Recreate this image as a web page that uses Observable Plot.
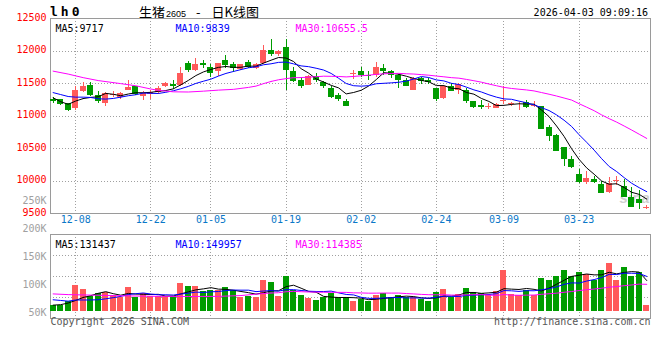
<!DOCTYPE html>
<html><head><meta charset="utf-8">
<script src="https://cdn.jsdelivr.net/npm/d3@7"></script>
<script src="https://cdn.jsdelivr.net/npm/@observablehq/plot@0.6"></script>
<style>
html,body{margin:0;padding:0;background:#fff;}
#chart{position:relative;width:660px;height:360px;background:#fff;overflow:hidden;}
#chart svg{position:absolute;left:0;}
.hdr{position:absolute;white-space:pre;line-height:1;color:#000;}
</style></head><body>
<div id="chart"></div>
<script>
// ---------- data ----------
const symbol = "lh0";
const productName = "生猪";
const contractCode = "2605";
const chartKind = "日K线图";
const stamp = "2026-04-03 09:09:16";
const copyright = "Copyright 2026 SINA.COM";
const siteUrl = "http://finance.sina.com.cn";
const watermark = "sina";

const dates = ["12-03","12-04","12-05","12-08","12-09","12-10","12-11","12-12","12-15","12-16","12-17","12-18","12-19","12-22","12-23","12-24","12-25","12-26","12-29","12-30","12-31",
"01-05","01-06","01-07","01-08","01-09","01-12","01-13","01-14","01-15","01-16","01-19","01-20","01-21","01-22","01-23","01-26","01-27","01-28","01-29","01-30",
"02-02","02-03","02-04","02-05","02-06","02-09","02-10","02-11","02-12","02-13",
"02-24","02-25","02-26","02-27","03-02","03-03","03-04","03-05","03-06",
"03-09","03-10","03-11","03-12","03-13","03-16","03-17","03-18","03-19","03-20",
"03-23","03-24","03-25","03-26","03-27","03-30","03-31","04-01","04-02","04-03"];

const open  = [11260,11250,11190,11120,11380,11470,11310,11190,11310,11280,11400,11450,11300,11330,11360,11450,11490,11470,11810,11700,
11810,11750,11680,11860,11800,11710,11820,11730,11810,12010,11940,12060,11690,11550,11470,11610,11510,11430,11320,11230,
11640,11690,11630,11620,11730,11690,11630,11550,11400,11570,11550,11420,11270,11450,11400,11400,11220,11160,11130,11120,
11220,11180,11170,11210,11140,11140,10830,10700,10510,10330,10100,9970,10030,9950,9830,9990,9920,9740,9710,9580];
const high  = [11290,11260,11200,11450,11510,11510,11380,11360,11370,11360,11550,11460,11370,11390,11450,11510,11550,11740,11840,11890,
11850,11790,11810,11930,11830,11800,11860,11810,12090,12170,12010,12170,11740,11590,11620,11650,11530,11450,11350,11260,
11700,11750,11690,11820,11790,11700,11640,11580,11600,11600,11570,11430,11470,11500,11500,11420,11230,11240,11190,11200,
11450,11210,11210,11240,11220,11150,10850,10710,10510,10370,10180,10140,10070,10000,10050,10070,10020,9900,9850,9620];
const low   = [11190,11160,11070,11090,11360,11300,11190,11150,11290,11260,11390,11320,11240,11260,11330,11440,11410,11450,11670,11680,
11730,11600,11610,11730,11670,11700,11730,11710,11790,11910,11910,11400,11520,11420,11470,11520,11420,11270,11230,11150,
11560,11600,11550,11600,11630,11580,11420,11450,11390,11480,11480,11230,11260,11370,11330,11200,11110,11100,11100,11110,
11170,11140,11090,11120,11130,10790,10610,10450,10220,10200,9960,9940,9960,9810,9810,9930,9740,9590,9560,9560];
const close = [11220,11180,11080,11400,11460,11310,11230,11340,11330,11350,11440,11330,11340,11360,11430,11500,11460,11650,11700,11800,
11780,11650,11810,11770,11730,11790,11740,11800,12010,11950,12000,11700,11530,11460,11610,11550,11460,11280,11260,11150,
11660,11630,11610,11750,11680,11620,11550,11460,11580,11530,11510,11260,11460,11380,11490,11220,11130,11130,11150,11170,
11240,11200,11180,11130,11160,10790,10690,10460,10330,10210,9970,10040,9970,9810,9960,10010,9750,9600,9650,9600];
const volume = [24300,24300,42800,109900,92700,62800,74200,78500,67100,59900,101300,59900,74200,62800,62800,62800,62800,119800,105600,105600,
84200,88500,88500,101300,87000,57100,62800,57100,131300,124100,62800,149800,88500,67100,55600,45700,59900,74200,57100,57100,
41400,48500,42800,67100,74200,57100,67100,57100,57100,48500,42800,81300,92700,57100,71300,98400,81300,74200,67100,85600,
174100,71300,67100,88500,67100,139800,131300,149800,174100,149800,165500,156900,131300,174100,205400,131300,186900,149800,164100,24300];

// moving averages before a full window exists
const priceMa5Head  = [11280,11220,11180,11230,11268];
const priceMa10Head = [11360,11330,11300,11290,11290,11285,11265,11260,11270,11290];
const priceMa30HeadDates = ["12-03","12-05","12-09","12-11","12-16","12-18","12-22","12-23","12-25","12-29","12-31","01-06","01-08","01-12","01-13","01-14","01-15"];
const priceMa30Head      = [11690,11645,11590,11545,11498,11465,11415,11395,11372,11369,11382,11398,11410,11440,11460,11498,11531];
const volMa5Head  = [26000,28000,35000,46000,58800];
const volMa10Head = [49000,46000,43000,48000,48000,48000,49000,53000,58000,63700];
const volMa30HeadDates = ["12-03","12-05","12-10","12-16","12-22","12-29","01-06","01-09","01-13","01-15"];
const volMa30Head      = [74000,71000,69000,66000,64000,63000,63500,67000,73000,77900];

const tickLabels = ["12-08","12-22","01-05","01-19","02-02","02-24","03-09","03-23"];
const priceTicks = [9500,10000,10500,11000,11500,12000,12500];
const priceGrid  = [10000,10500,11000,11500,12000];
const volGrid    = [60000,150000,240000];
const volTickLabels = [250000,200000,150000,100000,50000];

const maNames   = ["MA5","MA10","MA30"];
const maWindows = [5,10,30];
const priceMaLast = ["9717","9839","10655.5"];
const volMaLast   = ["131437","149957","114385"];

// ---------- styles ----------
const UP = "#ff5a5a", DOWN = "#009c00";
const maColors = ["#000000","#0000ff","#ff00ff"];
const AXIS_BLUE = "#0a78c8";
const MONO = "DejaVu Sans Mono, monospace";
const gridStyle = {stroke:"#a0a0a0", strokeOpacity:1, strokeDasharray:"1,2", shapeRendering:"crispEdges"};
const frameStyle = {stroke:"#9a9a9a", shapeRendering:"crispEdges"};

const candles = dates.map((date,i)=>({i, date, open:open[i], high:high[i], low:low[i], close:close[i], vol:volume[i], up: close[i] >= open[i]}));
const tickIdx = tickLabels.map(d => dates.indexOf(d));
const xScale = {domain:[-0.35, 79.5], axis:null};
const headSeq = arr => arr.map((v,i)=>({i, v}));
const headAt = (ds, vs) => ds.map((d,k)=>({i: dates.indexOf(d), v: vs[k]}));

function maMarks(field, heads) {
  const out = [];
  maWindows.forEach((k, n) => {
    out.push(Plot.line(heads[n], {x:"i", y:"v", stroke:maColors[n], strokeWidth:1}));
    out.push(Plot.line(candles, Plot.windowY({k, anchor:"end", strict:true, reduce:"mean"},
      {x:"i", y:field, stroke:maColors[n], strokeWidth:1})));
  });
  return out;
}
function legendMarks(values) {
  return maNames.map((name,n)=>Plot.text([`${name}:${values[n]}`], {
    frameAnchor:"top-left", textAnchor:"start", dx:5 + 120*n, dy:6, fill:maColors[n], fontSize:10}));
}
function candleBodies(filterUp, color, y1, y2) {
  return Plot.rect(candles, {filter: d => d.up === filterUp, x1: d => d.i - 0.4, x2: d => d.i + 0.4,
    y1, y2, fill: color, shapeRendering:"crispEdges"});
}

const chart = document.getElementById("chart");

// ---------- header ----------
function hdr(text, css) { const el = document.createElement("div"); el.className = "hdr"; el.textContent = text; Object.assign(el.style, css); chart.appendChild(el); return el; }
hdr(symbol, {left:"50px", top:"4px", font:"bold 13px 'DejaVu Sans Mono'", letterSpacing:"3px"});
const t = hdr("", {left:"139px", top:"2px", font:"13px 'Noto Sans CJK SC'"});
[[productName, "13px 'Noto Sans CJK SC'", "0"], [contractCode, "9px 'Liberation Sans'", "0 0 0 1px"],
 ["-", "13px 'Noto Sans CJK SC'", "0 11px 0 10px"], [chartKind, "13px 'Noto Sans CJK SC'", "0"]].forEach(([s,f,m])=>{
  const sp = document.createElement("span"); sp.textContent = s; sp.style.font = f; sp.style.margin = m; t.appendChild(sp);
});
hdr(stamp, {right:"12px", top:"6.5px", font:"10px 'DejaVu Sans Mono'"});

// ---------- price panel ----------
const pricePlot = Plot.plot({
  width:660, height:230, marginLeft:50, marginRight:10, marginTop:18, marginBottom:17,
  style:{background:"transparent", fontFamily:MONO, fontSize:"10px", overflow:"visible"},
  x: xScale,
  y: {domain:[9500,12500], axis:null},
  marks: [
    Plot.ruleY(priceGrid, gridStyle),
    Plot.ruleX(tickIdx, gridStyle),
    Plot.text([watermark], {frameAnchor:"bottom-right", textAnchor:"end", dx:-1, dy:-11, fontSize:15, fontWeight:"bold", fontStyle:"italic", fill:"#d0d0d0", fontFamily:"Liberation Sans"}),
    Plot.frame(frameStyle),
    Plot.ruleX(candles, {filter:d=>d.up, x:"i", y1:"low", y2:"high", stroke:UP, shapeRendering:"crispEdges"}),
    Plot.ruleX(candles, {filter:d=>!d.up, x:"i", y1:"low", y2:"high", stroke:DOWN, shapeRendering:"crispEdges"}),
    candleBodies(true, UP, "open", "close"),
    candleBodies(false, DOWN, "open", "close"),
    ...maMarks("close", [headSeq(priceMa5Head), headSeq(priceMa10Head), headAt(priceMa30HeadDates, priceMa30Head)]),
    Plot.text(priceTicks, {y:d=>d, text:d=>String(d), frameAnchor:"left", textAnchor:"end", dx:-4, dy:-1, fill:"#ff0000", fontSize:10}),
    Plot.text(tickLabels, {x:d=>dates.indexOf(d), text:d=>d, frameAnchor:"bottom", dy:9, fill:AXIS_BLUE, fontSize:10}),
    ...legendMarks(priceMaLast)
  ]
});
pricePlot.style.top = "0px";
chart.appendChild(pricePlot);

// ---------- volume panel ----------
const volPlot = Plot.plot({
  width:660, height:134, marginLeft:50, marginRight:10, marginTop:8, marginBottom:42,
  style:{background:"transparent", fontFamily:MONO, fontSize:"10px", overflow:"visible"},
  x: xScale,
  y: {domain:[-31200, 328300], axis:null},
  marks: [
    Plot.ruleY(volGrid, gridStyle),
    Plot.ruleX(tickIdx, gridStyle),
    Plot.frame(frameStyle),
    candleBodies(true, UP, 0, "vol"),
    candleBodies(false, DOWN, 0, "vol"),
    ...maMarks("vol", [headSeq(volMa5Head), headSeq(volMa10Head), headAt(volMa30HeadDates, volMa30Head)]),
    ...legendMarks(volMaLast),
    Plot.text([copyright], {frameAnchor:"bottom-left", textAnchor:"start", dy:6, fill:"#555", fontSize:10}),
    Plot.text([siteUrl], {frameAnchor:"bottom-right", textAnchor:"end", dy:6, fill:"#555", fontSize:10})
  ]
});
volPlot.style.top = "226px";
chart.appendChild(volPlot);

// ---------- volume axis labels ----------
const volAxis = Plot.plot({
  width:60, height:360, marginLeft:50, marginRight:0, marginTop:0, marginBottom:0,
  style:{background:"transparent", fontFamily:MONO, fontSize:"10px", overflow:"visible"},
  y: {domain:[50000,250000], range:[312,200.5], axis:null},
  marks: [
    Plot.text(volTickLabels, {y:d=>d, text:d=>d/1000 + "K", frameAnchor:"left", textAnchor:"end", dx:-4, fill:"#a0a0a0", fontSize:10})
  ]
});
volAxis.style.top = "0px";
chart.appendChild(volAxis);
</script>
</body></html>
